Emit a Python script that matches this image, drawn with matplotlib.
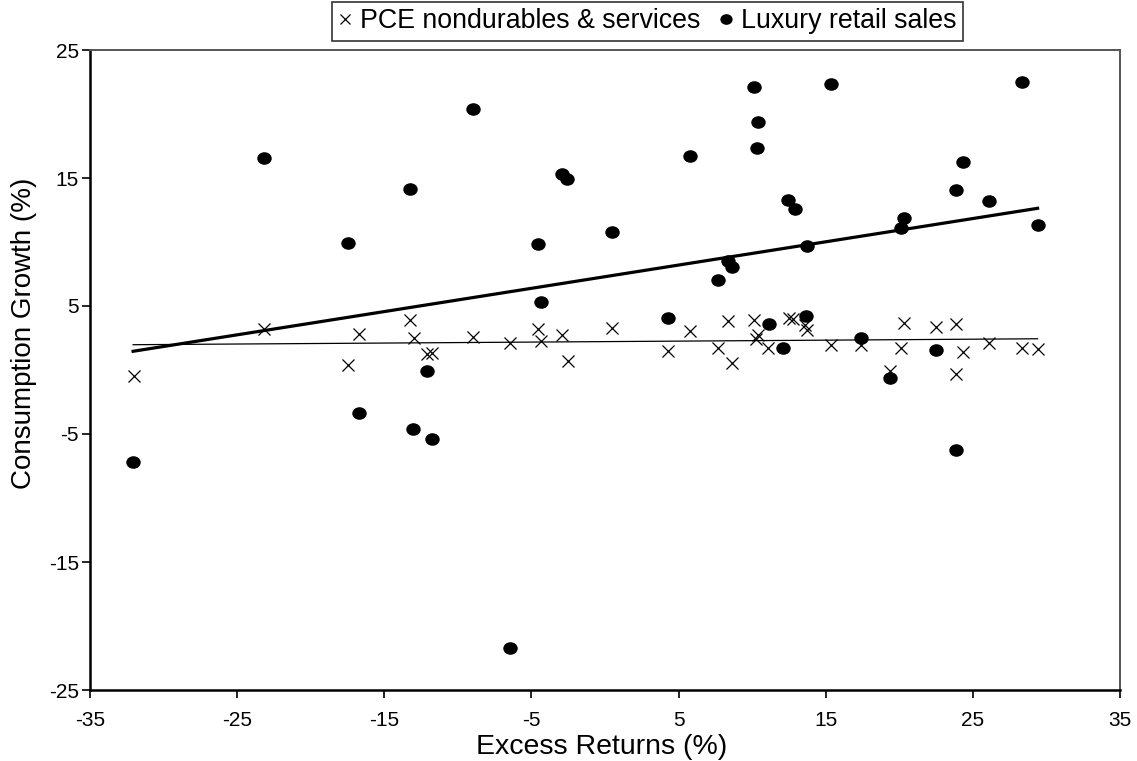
import matplotlib.pyplot as plt
import numpy as np
import matplotlib
from matplotlib.path import Path
matplotlib.rcParams['font.family'] = ['Liberation Sans', 'DejaVu Sans']
matplotlib.rcParams['axes.unicode_minus'] = False

# excess returns (%) and consumption growth (%)
lux_x = [-32.07, -23.18, -17.44, -16.71, -13.22, -13.03, -12.08, -11.77, -8.98, -6.48,
         -4.57, -4.37, -2.92, -2.56, 0.45, 4.28, 5.8, 7.68, 8.38, 8.61,
         10.11, 10.38, 10.31, 11.17, 12.09, 12.47, 12.88, 13.67, 13.72, 15.33,
         17.42, 19.34, 20.14, 20.3, 22.47, 23.88, 23.88, 24.31, 26.11, 28.31, 29.4]
lux_y = [-7.17, 16.57, 9.93, -3.35, 14.14, -4.6, -0.09, -5.39, 20.38, -21.68,
         9.85, 5.35, 15.34, 14.95, 10.79, 4.07, 16.69, 7.05, 8.54, 8.02,
         22.11, 19.36, 17.35, 3.57, 1.69, 13.3, 12.54, 4.18, 9.71, 22.37,
         2.53, -0.61, 11.08, 11.89, 1.56, 14.03, -6.23, 16.22, 13.24, 22.5, 11.36]

pce_x = [-32.0, -23.18, -17.44, -16.71, -13.22, -12.99, -12.08, -11.75, -8.98, -6.48,
         -4.57, -4.37, -2.92, -2.53, 0.45, 4.28, 5.8, 7.68, 8.38, 8.61,
         10.11, 10.38, 10.27, 11.07, 12.53, 12.76, 13.6, 13.75, 15.33, 17.42,
         19.34, 20.3, 20.14, 22.47, 23.88, 23.88, 24.31, 26.11, 28.31, 29.4]
pce_y = [-0.43, 3.18, 0.36, 2.81, 3.91, 2.47, 1.22, 1.35, 2.61, 2.11,
         3.18, 2.24, 2.71, 0.69, 3.26, 1.45, 3.05, 1.69, 3.83, 0.51,
         3.91, 2.71, 2.45, 1.74, 4.1, 3.96, 3.5, 3.1, 1.93, 1.93,
         -0.04, 3.71, 1.74, 3.36, 3.57, -0.29, 1.4, 2.14, 1.74, 1.61]

# slightly flattened dot, like the original
circ = Path.unit_circle()
dot = Path(circ.vertices * [1.0, 0.87], circ.codes)

fig = plt.figure(figsize=(11.37, 7.61), dpi=100)
ax = fig.add_axes([90/1137, 1-690/761, 1030/1137, 640/761])

ax.plot(pce_x, pce_y, 'x', color='black', markersize=8.8, markeredgewidth=0.9,
        label='PCE nondurables & services')
ax.plot(lux_x, lux_y, linestyle='none', marker=dot, color='black', markersize=10.4,
        markeredgewidth=0, label='Luxury retail sales')

# linear trend lines
xs = np.array([min(lux_x), max(lux_x)])
b1 = np.polyfit(lux_x, lux_y, 1)
b2 = np.polyfit(pce_x, pce_y, 1)
ax.plot(xs, np.polyval(b1, xs), color='black', lw=2.3)
ax.plot(xs, np.polyval(b2, xs), color='black', lw=0.9)

ax.set_xlim(-35, 35)
ax.set_ylim(-25, 25)
ax.set_xticks(np.arange(-35, 36, 10))
ax.set_yticks(np.arange(-25, 26, 10))
ax.tick_params(direction='out', length=6, width=1.2, labelsize=15)
ax.tick_params(axis='x', pad=9)
ax.tick_params(axis='y', pad=2)
ax.spines['right'].set_color('#555555')
ax.spines['top'].set_color('#555555')
for s in ax.spines.values():
    s.set_linewidth(1.4)
ax.spines['left'].set_linewidth(1.8)
ax.spines['bottom'].set_linewidth(1.8)
ax.set_xlabel('Excess Returns (%)', fontsize=20.5)
ax.set_ylabel('Consumption Growth (%)', fontsize=20)
ax.xaxis.set_label_coords(0.497, -0.069)
ax.yaxis.set_label_coords(-0.051, 0.558)

leg = fig.legend(loc='upper center', bbox_to_anchor=(0.5695, 0.998), ncol=2, fontsize=19.3,
                 frameon=True, fancybox=False, edgecolor='black', handlelength=0.5,
                 handletextpad=0.3, columnspacing=0.7, borderpad=0.25, borderaxespad=0,
                 markerscale=0.85)
leg.get_frame().set_linewidth(1.2)

fig.savefig('out.png', dpi=100)
